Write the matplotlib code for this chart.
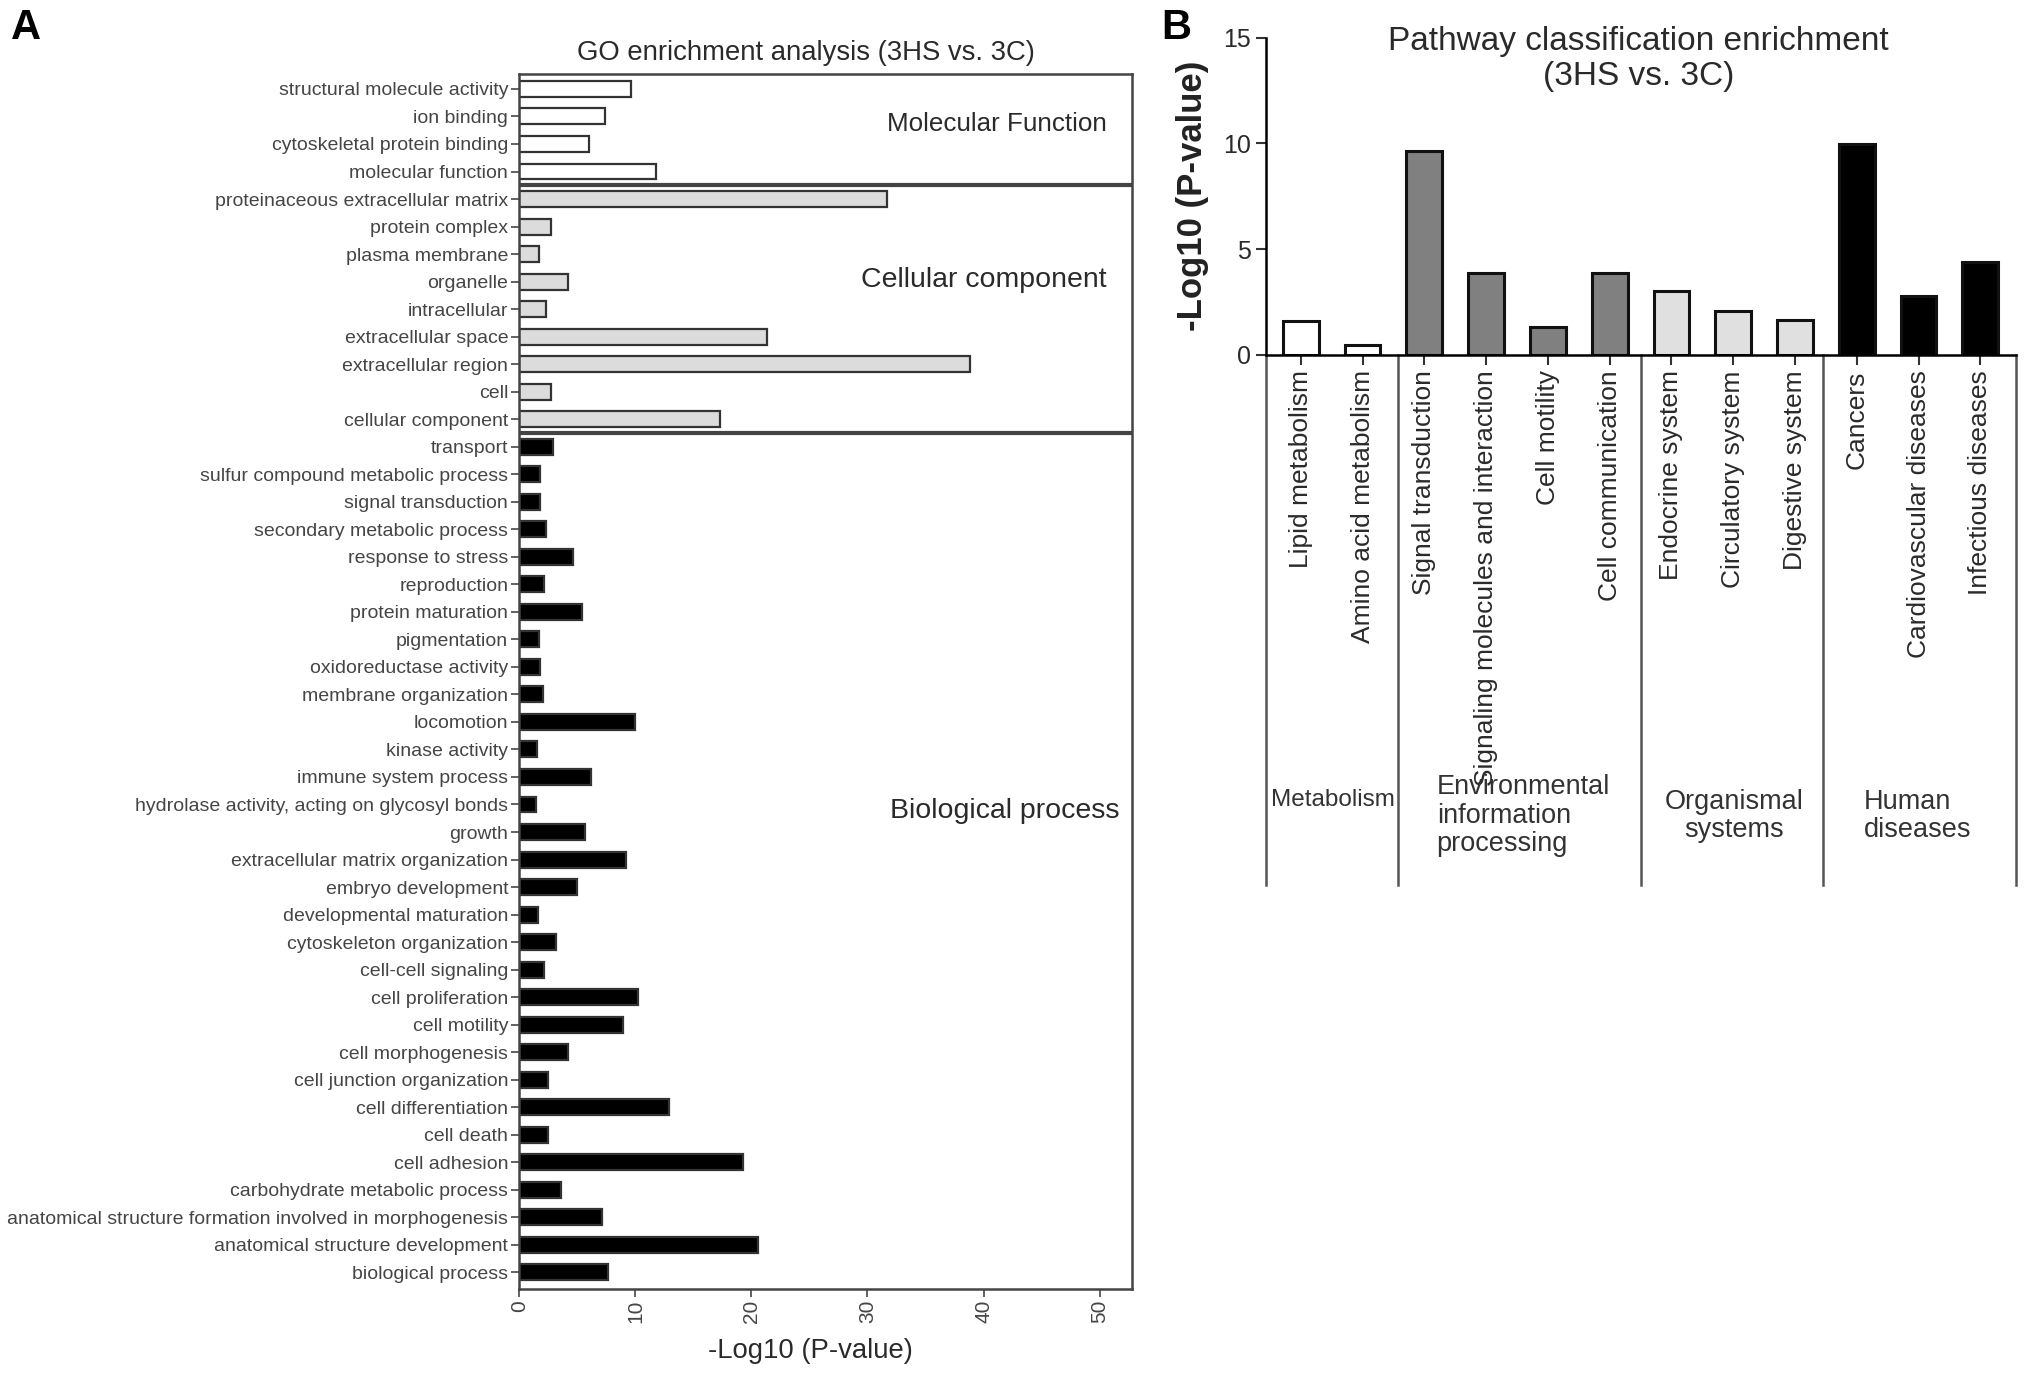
import numpy as np
import matplotlib
matplotlib.use("Agg")
import matplotlib.pyplot as plt

plt.rcParams['font.family'] = ['Liberation Sans', 'DejaVu Sans']

# GO terms, top to bottom
mf_terms = ["structural molecule activity", "ion binding", "cytoskeletal protein binding",
            "molecular function"]
mf_vals = [9.6, 7.4, 6.0, 11.8]

cc_terms = ["proteinaceous extracellular matrix", "protein complex", "plasma membrane",
            "organelle", "intracellular", "extracellular space", "extracellular region",
            "cell", "cellular component"]
cc_vals = [31.7, 2.7, 1.7, 4.2, 2.3, 21.3, 38.8, 2.7, 17.3]

bp_terms = ["transport", "sulfur compound metabolic process", "signal transduction",
            "secondary metabolic process", "response to stress", "reproduction",
            "protein maturation", "pigmentation", "oxidoreductase activity",
            "membrane organization", "locomotion", "kinase activity",
            "immune system process", "hydrolase activity, acting on glycosyl bonds",
            "growth", "extracellular matrix organization", "embryo development",
            "developmental maturation", "cytoskeleton organization", "cell-cell signaling",
            "cell proliferation", "cell motility", "cell morphogenesis",
            "cell junction organization", "cell differentiation", "cell death",
            "cell adhesion", "carbohydrate metabolic process",
            "anatomical structure formation involved in morphogenesis",
            "anatomical structure development", "biological process"]
bp_vals = [2.9, 1.8, 1.8, 2.3, 4.6, 2.1, 5.4, 1.7, 1.8, 2.0, 10.0, 1.5, 6.2, 1.4,
           5.7, 9.2, 5.0, 1.6, 3.2, 2.1, 10.2, 8.9, 4.2, 2.5, 12.9, 2.5, 19.3, 3.6,
           7.1, 20.6, 7.6]

# KEGG pathway classes
pathways = ["Lipid metabolism", "Amino acid metabolism", "Signal transduction",
            "Signaling molecules and interaction", "Cell motility", "Cell communication",
            "Endocrine system", "Circulatory system", "Digestive system", "Cancers",
            "Cardiovascular diseases", "Infectious diseases"]
pathway_vals = [1.6, 0.47, 9.65, 3.87, 1.33, 3.88, 3.04, 2.09, 1.63, 9.95, 2.8, 4.4]
pathway_group = [0, 0, 1, 1, 1, 1, 2, 2, 2, 3, 3, 3]
group_names = ["Metabolism", "Environmental\ninformation\nprocessing",
               "Organismal\nsystems", "Human\ndiseases"]

W, H = 2031, 1377
fig = plt.figure(figsize=(W / 100, H / 100), dpi=100)

txt_a = '#454545'
edge = '#333333'

# ---------------- Panel A ----------------
axA = fig.add_axes([0.2557, 0.0640, 0.3017, 0.8824])
terms = mf_terms + cc_terms + bp_terms
vals = mf_vals + cc_vals + bp_vals
colors = (['white'] * len(mf_terms) + ['#dcdcdc'] * len(cc_terms)
          + ['black'] * len(bp_terms))
y = np.arange(len(terms))
axA.barh(y, vals, height=0.58, color=colors, edgecolor=edge, linewidth=1.6)
axA.set_ylim(len(terms) - 0.4, -0.55)
axA.set_xlim(0, 52.8)
axA.set_yticks(y)
axA.set_yticklabels(terms, fontsize=14, color=txt_a)
axA.set_xticks([0, 10, 20, 30, 40, 50])
axA.set_xticklabels(['0', '10', '20', '30', '40', '50'], rotation=90,
                    fontsize=15, color=txt_a)
axA.tick_params(axis='both', length=6, width=1.3, color='#555555', pad=2)
for s in axA.spines.values():
    s.set_linewidth(1.8)
    s.set_color('#444444')

n_mf = len(mf_terms)
n_cc = len(cc_terms)
for b in [n_mf - 0.5, n_mf + n_cc - 0.5]:
    axA.axhline(b, color='#444444', lw=3)

axA.text(50.6, 1.27, "Molecular Function", ha='right', va='center',
         fontsize=18.7, color='#2a2a2a')
axA.text(50.6, 6.96, "Cellular component", ha='right', va='center',
         fontsize=20.5, color='#2a2a2a')
axA.text(51.7, 26.25, "Biological process", ha='right', va='center',
         fontsize=20.5, color='#2a2a2a')

fig.text(0.397, 0.9615, "GO enrichment analysis (3HS vs. 3C)", ha='center',
         va='center', fontsize=19.8, color='#2a2a2a')
fig.text(0.399, 0.019, "-Log10 (P-value)", ha='center', va='center',
         fontsize=19.8, color='#2a2a2a')

# ---------------- Panel B ----------------
axB = fig.add_axes([0.6231, 0.7423, 0.3693, 0.2304])
grp_colors = ['white', '#808080', '#e0e0e0', 'black']
x = np.arange(len(pathways))
axB.bar(x, pathway_vals, width=0.58, color=[grp_colors[g] for g in pathway_group],
        edgecolor='#111111', linewidth=2.2)
axB.set_xlim(-0.57, len(pathways) - 0.43)
axB.set_ylim(0, 15)
axB.set_yticks([0, 5, 10, 15])
axB.set_yticklabels(['0', '5', '10', '15'], fontsize=18, color='#2a2a2a')
axB.set_xticks(x)
axB.set_xticklabels(pathways, rotation=90, fontsize=19, color='#2a2a2a', va='top')
axB.tick_params(axis='both', length=7, width=1.5, color='#333333')
axB.tick_params(axis='x', pad=4)
axB.spines['top'].set_visible(False)
axB.spines['right'].set_visible(False)
axB.spines['left'].set_linewidth(1.8)
axB.spines['bottom'].set_linewidth(1.8)
axB.set_ylabel("-Log10 (P-value)", fontsize=25, fontweight='bold', color='#222222',
               labelpad=10)

# group separators hanging below the axis
bounds = [-0.57, 1.58, 5.5, 8.45, len(pathways) - 0.43]
for bx in bounds:
    axB.plot([bx, bx], [0, -1.67], transform=axB.get_xaxis_transform(),
             color='#555555', lw=1.8, clip_on=False)

axB.text(0.52, -1.404, group_names[0], transform=axB.get_xaxis_transform(),
         ha='center', va='center', fontsize=17.5, color='#333333')
axB.text(2.2, -1.453, group_names[1], transform=axB.get_xaxis_transform(),
         ha='left', va='center', fontsize=19.5, color='#333333', linespacing=1.12)
axB.text(7.02, -1.453, group_names[2], transform=axB.get_xaxis_transform(),
         ha='center', va='center', fontsize=19.5, color='#333333', linespacing=1.12)
axB.text(9.12, -1.453, group_names[3], transform=axB.get_xaxis_transform(),
         ha='left', va='center', fontsize=19.5, color='#333333', linespacing=1.12)

fig.text(0.8066, 0.9572, "Pathway classification enrichment\n(3HS vs. 3C)",
         ha='center', va='center', fontsize=24, color='#2a2a2a', linespacing=1.15)

# panel letters
fig.text(0.0128, 0.9797, "A", ha='center', va='center', fontsize=30, fontweight='bold')
fig.text(0.579, 0.9797, "B", ha='center', va='center', fontsize=30, fontweight='bold')

fig.savefig("out.png", dpi=100)
